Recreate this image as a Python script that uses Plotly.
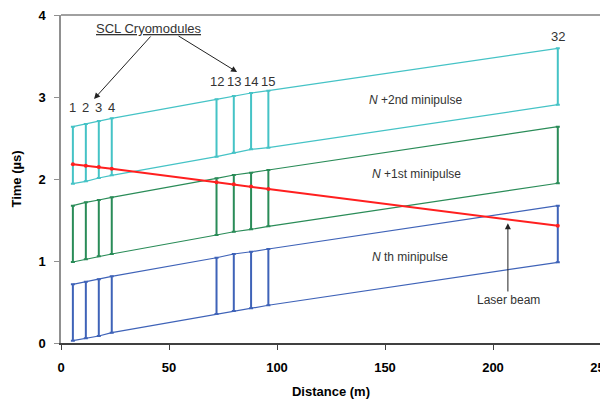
import plotly.graph_objects as go

# ---- data ----
distance = [5.5, 11.5, 17.5, 23.5, 72, 80, 88, 96, 230]
module_labels = ["1", "2", "3", "4", "12", "13", "14", "15", "32"]

n_bottom = [0.028, 0.057, 0.085, 0.126, 0.354, 0.390, 0.423, 0.460, 0.984]
n_top = [0.716, 0.748, 0.777, 0.813, 1.040, 1.085, 1.113, 1.146, 1.675]
n1_bottom = [0.988, 1.020, 1.057, 1.085, 1.317, 1.357, 1.386, 1.423, 1.948]
n1_top = [1.675, 1.715, 1.744, 1.777, 2.008, 2.049, 2.077, 2.110, 2.638]
n2_bottom = [1.943, 1.972, 2.012, 2.045, 2.272, 2.320, 2.362, 2.382, 2.906]
n2_top = [2.638, 2.671, 2.707, 2.740, 2.972, 3.012, 3.049, 3.077, 3.594]
laser = [2.180, 2.162, 2.146, 2.126, 1.960, 1.935, 1.910, 1.878, 1.430]

x_ticks = [0, 50, 100, 150, 200, 250]
y_ticks = [0, 1, 2, 3, 4]

FONT = "Liberation Sans, Arial, sans-serif"
BLUE = "#3f63b8"
GREEN = "#2a8c58"
CYAN = "#45c3c6"
RED = "#ff1f1f"
TXT = "#333333"

fig = go.Figure()

for bot, top, col in [(n_bottom, n_top, BLUE), (n1_bottom, n1_top, GREEN), (n2_bottom, n2_top, CYAN)]:
    heights = [t - b for t, b in zip(top, bot)]
    fig.add_trace(go.Scatter(
        x=distance, y=bot, mode="lines", line=dict(color=col, width=1.2),
        error_y=dict(type="data", symmetric=False, array=heights,
                     arrayminus=[0] * len(bot), color=col, thickness=2, width=2),
        hoverinfo="skip"))
    fig.add_trace(go.Scatter(
        x=distance, y=top, mode="lines", line=dict(color=col, width=1.2),
        hoverinfo="skip"))

fig.add_trace(go.Scatter(
    x=distance, y=laser, mode="lines+markers",
    line=dict(color=RED, width=2), marker=dict(color=RED, size=4),
    hoverinfo="skip"))

ann = []
label_y = [2.87, 2.87, 2.87, 2.87, 3.19, 3.19, 3.19, 3.19, 3.74]
for d, lab, ly in zip(distance, module_labels, label_y):
    ann.append(dict(x=d, y=ly, text=lab, showarrow=False,
                    font=dict(family=FONT, size=13, color=TXT)))

ann.append(dict(x=40.7, y=3.84, text="<u>SCL Cryomodules</u>", showarrow=False,
                font=dict(family=FONT, size=13, color=TXT)))
ann.append(dict(x=15.3, y=2.976, ax=42.1, ay=3.756, axref="x", ayref="y",
                text="", showarrow=True, arrowhead=2, arrowsize=1.2, arrowwidth=1,
                arrowcolor="#222222"))
ann.append(dict(x=81.5, y=3.305, ax=53.7, ay=3.756, axref="x", ayref="y",
                text="", showarrow=True, arrowhead=2, arrowsize=1.2, arrowwidth=1,
                arrowcolor="#222222"))
ann.append(dict(x=141.5, y=2.963, xanchor="left", text="<i>N</i> +2nd minipulse",
                showarrow=False, font=dict(family=FONT, size=12, color=TXT)))
ann.append(dict(x=143.1, y=2.061, xanchor="left", text="<i>N</i> +1st minipulse",
                showarrow=False, font=dict(family=FONT, size=12, color=TXT)))
ann.append(dict(x=143.1, y=1.052, xanchor="left", text="<i>N</i> th minipulse",
                showarrow=False, font=dict(family=FONT, size=12, color=TXT)))
ann.append(dict(x=207.4, y=0.524, text="Laser beam", showarrow=False,
                font=dict(family=FONT, size=12, color=TXT)))
ann.append(dict(x=206.9, y=1.46, ax=206.9, ay=0.61, axref="x", ayref="y",
                text="", showarrow=True, arrowhead=2, arrowsize=1.2, arrowwidth=1,
                arrowcolor="#222222"))

# the page body adds an 8px margin, so the figure is sized/offset to compensate
fig.update_layout(
    width=600, height=391,
    margin=dict(l=53, r=7, t=7, b=56, autoexpand=False),
    paper_bgcolor="white", plot_bgcolor="white",
    showlegend=False,
    annotations=ann,
    shapes=[dict(type="line", xref="paper", yref="paper", x0=0, x1=1, y0=1, y1=1,
                 line=dict(color="#808080", width=1.5))],
    xaxis=dict(range=[0, 250], tickvals=x_ticks, showgrid=False, zeroline=False,
               showline=True, linecolor="#404040", linewidth=1.5,
               ticks="outside", ticklen=5, tickcolor="#404040",
               ticklabelstandoff=7, ticklabeloverflow="allow",
               tickfont=dict(family=FONT, size=13, color="black", weight="bold"),
               title=dict(text="<b>Distance (m)</b>", standoff=13,
                          font=dict(family=FONT, size=13, color="black"))),
    yaxis=dict(range=[0, 4], tickvals=y_ticks, showgrid=False, zeroline=False,
               showline=True, linecolor="#909090", linewidth=1.5, mirror=True,
               ticks="outside", ticklen=5, tickcolor="#909090",
               ticklabelstandoff=6, ticklabeloverflow="allow",
               tickfont=dict(family=FONT, size=13, color="black", weight="bold"),
               title=dict(text="<b>Time (µs)</b>", standoff=14,
                          font=dict(family=FONT, size=13, color="black"))),
)

fig.write_html("out.html")
